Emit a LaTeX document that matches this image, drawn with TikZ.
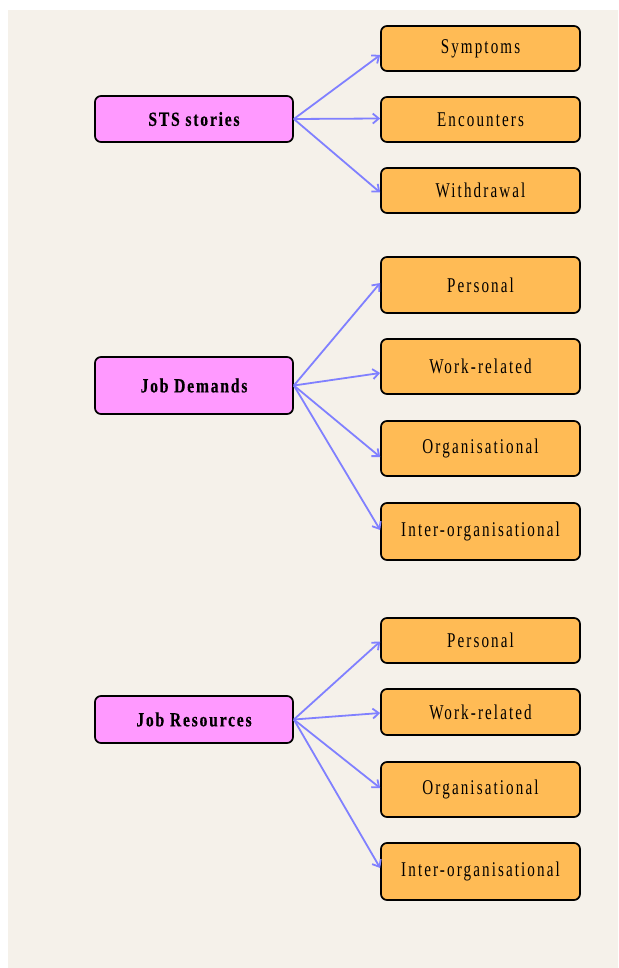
\documentclass[tikz,border=0pt]{standalone}
\usepackage{fontspec}
\setmainfont{Liberation Serif}
\newfontfamily\boxfont[FakeStretch=0.72,LetterSpace=10]{Liberation Serif}
\newfontfamily\srcfont[FakeStretch=0.78,LetterSpace=9,FakeBold=0.4]{Liberation Serif Bold}
\usetikzlibrary{arrows.meta}
\definecolor{bgc}{HTML}{F5F1EA}
\definecolor{pinkc}{HTML}{FF99FF}
\definecolor{orangec}{HTML}{FFBB55}
\definecolor{arrc}{HTML}{8080FF}
\tikzset{
  srcbox/.style={draw=black, line width=1.7pt, rounded corners=6pt, fill=pinkc,
    minimum width=198pt, inner sep=0pt, font=\srcfont\fontsize{20}{24}\selectfont},
  tgtbox/.style={draw=black, line width=1.7pt, rounded corners=6pt, fill=orangec,
    minimum width=199pt, inner sep=0pt, font=\boxfont\fontsize{21}{25}\selectfont},
  link/.style={draw=arrc, line width=1.8pt, -{Straight Barb[length=6pt,width=10pt]}}
}
\begin{document}
\begin{tikzpicture}[x=1pt,y=-1pt]
\useasboundingbox (0,0) rectangle (618,968);
\fill[white] (0,0) rectangle (618,968);
\fill[bgc] (8,10) rectangle (618,968);
% sources
\node[srcbox, minimum height=46pt] (sts) at (194,119) {STS stories};
\node[srcbox, minimum height=57pt] (jd) at (194,385.5) {Job Demands};
\node[srcbox, minimum height=47pt] (jr) at (194,719.5) {Job Resources};
% STS targets
\node[tgtbox, minimum height=45pt] (sym) at (480.5,48.5) {Symptoms};
\node[tgtbox, minimum height=45pt] (enc) at (480.5,119.5) {Encounters};
\node[tgtbox, minimum height=45pt] (wit) at (480.5,190.5) {Withdrawal};
% JD targets
\node[tgtbox, minimum height=56pt] (jdp) at (480.5,285) {Personal};
\node[tgtbox, minimum height=55pt] (jdw) at (480.5,366.5) {Work-related};
\node[tgtbox, minimum height=55pt] (jdo) at (480.5,448.5) {Organisational};
\node[tgtbox, minimum height=57pt] (jdi) at (480.5,531.5) {Inter-organisational};
% JR targets
\node[tgtbox, minimum height=45pt] (jrp) at (480.5,640.5) {Personal};
\node[tgtbox, minimum height=46pt] (jrw) at (480.5,712) {Work-related};
\node[tgtbox, minimum height=55pt] (jro) at (480.5,789.5) {Organisational};
\node[tgtbox, minimum height=57pt] (jri) at (480.5,871.5) {Inter-organisational};
% connectors
\draw[link] (sts.east) -- ([yshift=-6.5pt]sym.west);
\draw[link] (sts.east) -- ([yshift=1pt]enc.west);
\draw[link] (sts.east) -- ([yshift=-2pt]wit.west);
\draw[link] (jd.east) -- ([yshift=2pt]jdp.west);
\draw[link] (jd.east) -- ([yshift=-6.5pt]jdw.west);
\draw[link] (jd.east) -- ([yshift=-8.5pt]jdo.west);
\draw[link] (jd.east) -- ([yshift=1.5pt]jdi.west);
\draw[link] (jr.east) -- ([yshift=-1pt]jrp.west);
\draw[link] (jr.east) -- ([yshift=-1pt]jrw.west);
\draw[link] (jr.east) -- ([yshift=1.5pt]jro.west);
\draw[link] (jr.east) -- ([yshift=3.5pt]jri.west);
\end{tikzpicture}
\end{document}
